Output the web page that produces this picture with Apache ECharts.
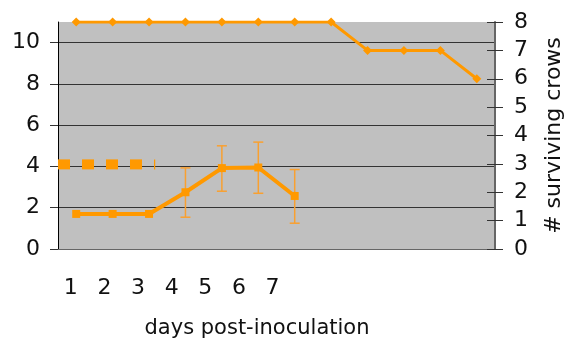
<!DOCTYPE html>
<html>
<head>
<meta charset="utf-8">
<script src="https://cdn.jsdelivr.net/npm/echarts@6/dist/echarts.min.js"></script>
<style>
  html, body { margin: 0; padding: 0; background: #fff; }
  #chart { width: 564px; height: 338px; }
</style>
</head>
<body>
<div id="chart"></div>
<script>
// 数据
const categories = ['1', '2', '3', '4', '5', '6', '7', '8', '9', '10', '11', '12']
const dayLabels = ['1', '2', '3', '4', '5', '6', '7', '', '', '', '', '', '']
const surviving = [8, 8, 8, 8, 8, 8, 8, 8, 7, 7, 7, 6]
const titer = [1.7, 1.7, 1.7, 2.75, 3.92, 3.95, 2.57]
const titerHigh = [null, null, null, 3.93, 5.0, 5.18, 3.85]
const titerLow = [null, null, null, 1.54, 2.8, 2.7, 1.25]
const limitX = [-0.5, 2.17]
const limitValue = 4.1
const leftTicks = [0, 2, 4, 6, 8, 10]

const orange = '#ff9900'
const font = 'DejaVu Sans'
const fontSize = 22

const errData = []
titerHigh.forEach(function (h, i) {
    if (h != null) errData.push([i, h, titerLow[i]])
})

const option = {
    animation: false,
    grid: {
        left: 58,
        right: 69,
        top: 22,
        bottom: 89,
        outerBoundsMode: 'none',
        containLabel: false,
        show: true,
        backgroundColor: '#c0c0c0',
        borderWidth: 0
    },
    xAxis: [
        {
            type: 'category',
            data: categories,
            boundaryGap: true,
            axisLine: { lineStyle: { color: '#666', width: 1 } },
            axisTick: { length: 8, lineStyle: { color: '#333' } },
            axisLabel: { show: false }
        },
        {
            type: 'category',
            data: dayLabels,
            position: 'bottom',
            axisLine: { show: false },
            axisTick: { show: false },
            axisLabel: {
                interval: 0,
                margin: 28,
                fontSize: fontSize,
                fontFamily: font,
                color: '#111',
                padding: [0, 8, 0, 0]
            },
            name: 'days post-inoculation',
            nameLocation: 'middle',
            nameGap: 69,
            nameTextStyle: {
                fontSize: 21,
                fontFamily: font,
                color: '#111',
                padding: [0, 39, 0, 0]
            }
        },
        {
            type: 'value',
            min: -0.5,
            max: 11.5,
            show: false
        }
    ],
    yAxis: [
        {
            type: 'value',
            min: 0,
            max: 11,
            interval: 2,
            axisLine: { show: true, onZero: false, lineStyle: { color: '#000' } },
            axisTick: { show: true, length: 8, lineStyle: { color: '#333' }, customValues: leftTicks },
            axisLabel: {
                fontSize: fontSize,
                fontFamily: font,
                color: '#111',
                margin: 18,
                customValues: leftTicks
            },
            splitLine: { lineStyle: { color: '#333', width: 1 } }
        },
        {
            type: 'value',
            min: 0,
            max: 8,
            interval: 1,
            position: 'right',
            axisLine: { show: true, onZero: false, lineStyle: { color: '#666', width: 2 } },
            axisTick: { show: true, length: 8, lineStyle: { color: '#333' } },
            axisLabel: {
                fontSize: fontSize,
                fontFamily: font,
                color: '#111',
                margin: 19
            },
            splitLine: { show: false },
            name: '# surviving crows',
            nameLocation: 'middle',
            nameGap: 48,
            nameTextStyle: { fontSize: fontSize, fontFamily: font, color: '#111' }
        },
        {
            // 右轴内侧刻度
            type: 'value',
            min: 0,
            max: 8,
            interval: 1,
            position: 'right',
            axisLine: { show: false, onZero: false },
            axisTick: { show: true, inside: true, length: 8, lineStyle: { color: '#333' } },
            axisLabel: { show: false },
            splitLine: { show: false }
        }
    ],
    series: [
        {
            name: 'limit',
            type: 'line',
            xAxisIndex: 2,
            yAxisIndex: 0,
            data: [[limitX[0], limitValue], [limitX[1], limitValue]],
            symbol: 'none',
            lineStyle: { color: orange, width: 10, type: [12, 12], cap: 'butt' },
            z: 3
        },
        {
            name: 'error',
            type: 'custom',
            xAxisIndex: 0,
            yAxisIndex: 0,
            data: errData,
            z: 2,
            renderItem: function (params, api) {
                const top = api.coord([api.value(0), api.value(1)])
                const bot = api.coord([api.value(0), api.value(2)])
                const w = 5
                const style = { stroke: '#f9a030', lineWidth: 1.5 }
                return {
                    type: 'group',
                    children: [
                        { type: 'line', shape: { x1: top[0], y1: top[1], x2: bot[0], y2: bot[1] }, style: style },
                        { type: 'line', shape: { x1: top[0] - w, y1: top[1], x2: top[0] + w, y2: top[1] }, style: style },
                        { type: 'line', shape: { x1: bot[0] - w, y1: bot[1], x2: bot[0] + w, y2: bot[1] }, style: style }
                    ]
                }
            }
        },
        {
            name: 'titer',
            type: 'line',
            xAxisIndex: 0,
            yAxisIndex: 0,
            data: titer,
            symbol: 'rect',
            symbolSize: 8,
            itemStyle: { color: orange },
            lineStyle: { color: orange, width: 4 },
            z: 4
        },
        {
            name: 'surviving',
            type: 'line',
            xAxisIndex: 0,
            yAxisIndex: 1,
            data: surviving,
            symbol: 'diamond',
            symbolSize: 9,
            itemStyle: { color: orange },
            lineStyle: { color: orange, width: 3 },
            z: 4
        }
    ]
}

const chart = echarts.init(document.getElementById('chart'))
chart.setOption(option)
window.addEventListener('resize', function () { chart.resize() })
</script>
</body>
</html>
